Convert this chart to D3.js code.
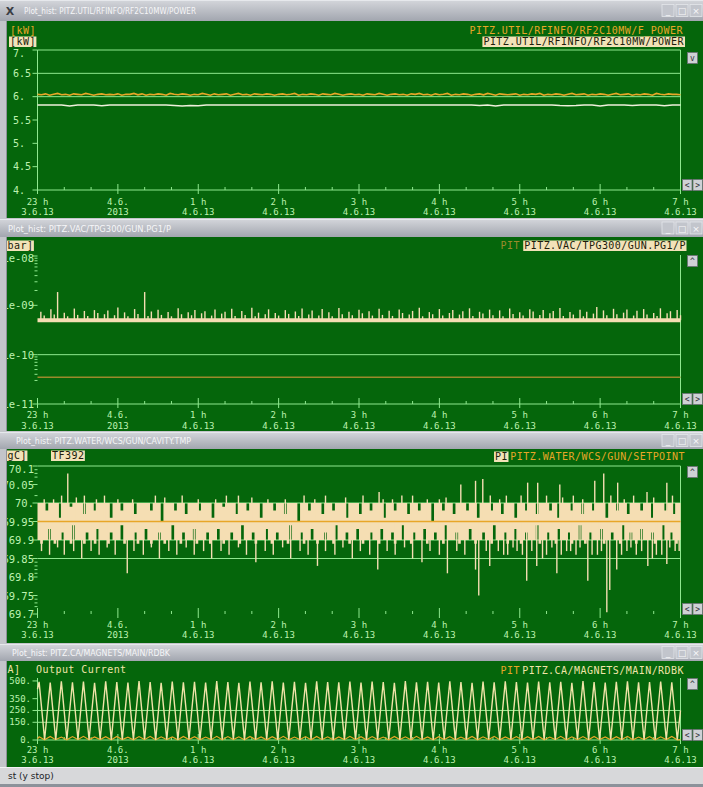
<!DOCTYPE html>
<html><head><meta charset="utf-8">
<script src="https://cdn.jsdelivr.net/npm/d3@7"></script>
<style>
html,body{margin:0;padding:0;background:#c3c5ca;}
svg{display:block;}
</style></head><body>
<svg id="c" width="703" height="787"></svg>
<script>
// ---------- shared time axis: minutes after 23:00 on 3.6.2013 ----------
const hourTicks = [0, 60, 120, 180, 240, 300, 360, 420, 480];
const hourLabelTop = ["23 h", "4.6.", "1 h", "2 h", "3 h", "4 h", "5 h", "6 h", "7 h"];
const hourLabelBottom = ["3.6.13", "2013", "4.6.13", "4.6.13", "4.6.13", "4.6.13", "4.6.13", "4.6.13", "4.6.13"];
const minorTicks = [20, 40, 80, 100, 140, 160, 200, 220, 260, 280, 320, 340, 380, 400, 440, 460];

// ---------- RF power [kW] ----------
const rfTicks = [7, 6.5, 6, 5.5, 5, 4.5, 4];
const rfTickLabels = ["7.", "6.5", "6.", "5.5", "5.", "4.5", "4."];
const rfLimits = [7, 6.5, 6];
const rfForwardStep = 3; // minutes between samples
const rfForward = [
  6.05,6.04,6.06,6.03,6.05,6.07,6.04,6.05,6.03,6.06,6.05,6.04,6.07,6.05,6.03,6.05,6.06,6.04,6.05,6.04,
  6.06,6.03,6.05,6.05,6.07,6.04,6.06,6.03,6.05,6.04,6.06,6.05,6.03,6.07,6.05,6.04,6.06,6.05,6.03,6.05,
  6.04,6.07,6.05,6.03,6.06,6.04,6.05,6.06,6.03,6.05,6.07,6.04,6.05,6.03,6.06,6.05,6.04,6.06,6.05,6.03,
  6.05,6.06,6.04,6.05,6.07,6.03,6.05,6.04,6.06,6.05,6.03,6.06,6.05,6.04,6.07,6.05,6.03,6.05,6.06,6.04,
  6.05,6.03,6.06,6.05,6.04,6.07,6.05,6.03,6.05,6.06,6.04,6.05,6.03,6.06,6.05,6.07,6.04,6.05,6.03,6.06,
  6.04,6.05,6.07,6.03,6.05,6.04,6.06,6.05,6.03,6.05,6.06,6.04,6.07,6.05,6.03,6.06,6.05,6.04,6.05,6.06,
  6.03,6.05,6.04,6.06,6.05,6.07,6.03,6.05,6.04,6.06,6.05,6.03,6.05,6.07,6.04,6.05,6.06,6.03,6.05,6.04,
  6.06,6.05,6.03,6.05,6.07,6.04,6.05,6.06,6.03,6.05,6.04,6.06,6.05,6.03,6.07,6.05,6.04,6.06,6.05,6.05,
  6.04];
const rfPowerStep = 6;
const rfPower = [
  5.82,5.82,5.82,5.82,5.80,5.82,5.82,5.82,5.805,5.82,5.82,5.82,5.82,5.82,5.82,5.82,5.82,5.81,5.80,5.81,
  5.805,5.82,5.82,5.82,5.82,5.82,5.82,5.82,5.82,5.82,5.82,5.82,5.82,5.82,5.82,5.82,5.82,5.82,5.82,5.82,
  5.82,5.82,5.82,5.82,5.82,5.82,5.82,5.82,5.82,5.82,5.82,5.82,5.82,5.82,5.82,5.81,5.82,5.80,5.82,5.82,
  5.82,5.82,5.82,5.82,5.82,5.81,5.805,5.81,5.82,5.82,5.80,5.82,5.82,5.82,5.81,5.82,5.82,5.82,5.805,5.82,5.82];

// ---------- gun vacuum [mbar], values in units of 1e-10 ----------
const vacTicks = [1e-8, 1e-9, 1e-10, 1e-11];
const vacTickLabels = ["1e-08", "1e-09", "1e-10", "1e-11"];
const vacMinor = [9e-9, 8e-9, 7e-9, 6e-9, 5e-9, 4e-9, 3e-9, 2e-9, 9e-11, 8e-11, 7e-11, 6e-11, 5e-11, 4e-11, 3e-11];
const vacLimits = [1e-10];
const vacFloorT = [0, 480];
const vacFloor = [5.0, 5.0];
const vacStep = 2.5; // minutes between peak readings
const vacP = [
  5.0,7.4,6.2,5.1,8.3,6.5,18.6,5.0,7.1,6.0,4.9,8.6,6.4,5.0,7.7,6.1,5.1,8.0,7.0,4.9,
  6.6,7.9,5.0,6.3,9.0,5.1,7.2,6.0,4.8,8.4,6.7,5.0,18.6,6.1,7.5,5.1,8.1,6.4,4.9,7.3,
  6.0,5.0,8.7,6.6,5.1,7.2,6.3,8.0,5.0,6.9,7.6,4.9,6.2,8.2,5.1,6.8,7.4,5.0,8.5,6.1,
  5.0,7.7,6.4,5.2,8.9,6.0,7.1,5.0,6.6,8.3,4.9,7.0,6.2,5.1,8.0,6.7,5.0,7.5,6.1,8.6,
  5.0,6.5,7.9,5.1,6.2,8.4,5.0,7.2,6.0,4.9,8.8,6.6,5.1,7.4,6.3,5.0,8.1,6.9,4.8,7.6,
  6.2,5.0,8.5,6.4,5.1,7.8,6.1,5.0,8.2,7.0,4.9,6.5,7.7,5.1,8.9,6.0,5.0,7.3,6.6,5.0,
  8.4,6.2,5.1,7.0,8.0,4.9,6.5,7.6,5.0,8.7,6.1,5.1,7.4,6.8,5.0,8.2,6.3,4.9,7.9,6.0,
  5.0,8.6,6.7,5.1,7.2,6.2,5.0,8.3,7.5,4.9,6.4,8.0,5.1,6.9,7.7,5.0,8.8,6.1,5.1,7.3,
  6.5,5.0,8.1,6.0,7.4,5.1,6.8,9.2,5.0,7.9,6.3,4.9,8.5,6.6,5.0,7.1,8.2,5.1,6.2,7.8,
  5.0,8.4,6.5,5.1,7.0,6.1,8.7,5.0,6.9,7.6,4.9,8.0,6.3];
const vacRefT = [0, 480];
const vacRef = [0.35, 0.35];

// ---------- cavity temperature [degC] ----------
const tmpTicks = [70.1, 70.05, 70.0, 69.95, 69.9, 69.85, 69.8, 69.75, 69.7];
const tmpTickLabels = ["70.1", "70.05", "70.", "69.95", "69.9", "69.85", "69.8", "69.75", "69.7"];
const tmpMinor = [70.09, 70.08, 70.07, 70.02, 69.84, 69.83, 69.82, 69.81, 69.74, 69.73, 69.72];
const tmpLimits = [70.1, 70.0, 69.9, 69.85];
const tmpStep = 2; // width of one min/max bin in minutes
const tmpHi = [
  70.00,70.00,70.00,69.98,70.00,70.00,70.00,70.00,69.96,70.00,70.00,70.00,69.99,70.00,70.00,70.00,70.00,69.97,70.00,70.00,
  70.00,69.98,70.00,70.00,70.00,70.00,70.00,69.96,70.00,70.00,70.00,69.98,70.00,70.00,70.00,70.00,69.97,70.00,70.00,70.00,
  70.00,70.00,69.98,70.00,70.00,70.00,69.95,70.00,70.00,70.00,70.00,69.98,70.00,70.00,70.00,69.97,70.00,70.00,70.00,70.00,
  69.98,70.00,70.00,70.00,70.00,69.96,70.00,70.00,70.00,69.99,70.00,70.00,70.00,70.00,69.97,70.00,70.00,70.00,69.98,70.00,
  70.00,70.00,70.00,69.96,70.00,70.00,70.00,70.00,69.98,70.00,70.00,70.00,69.97,70.00,70.00,70.00,70.00,69.95,70.00,70.00,
  70.00,69.98,70.00,70.00,70.00,70.00,69.97,70.00,70.00,70.00,69.98,70.00,70.00,70.00,70.00,69.96,70.00,70.00,70.00,70.00,
  69.97,70.00,70.00,70.00,69.98,70.00,70.00,70.00,70.00,69.96,70.00,70.00,70.00,69.98,70.00,70.00,70.00,70.00,69.97,70.00,
  70.00,70.00,69.98,70.00,70.00,70.00,70.00,69.95,70.00,70.00,70.00,69.98,70.00,70.00,70.00,69.97,70.00,70.00,70.00,70.00,
  69.98,70.00,70.00,70.00,69.96,70.00,70.00,70.00,70.00,69.98,70.00,70.00,70.00,69.97,70.00,70.00,70.00,70.00,69.96,70.00,
  70.00,70.00,69.98,70.00,70.00,70.00,69.97,70.00,70.00,70.00,70.00,69.98,70.00,70.00,69.96,70.00,70.00,70.00,70.00,69.98,
  70.00,70.00,70.00,69.97,70.00,70.00,70.00,69.98,70.00,70.00,70.00,70.00,69.96,70.00,70.00,70.00,69.98,70.00,70.00,70.00,
  69.97,70.00,70.00,70.00,70.00,69.98,70.00,70.00,70.00,69.96,70.00,70.00,70.00,70.00,69.98,70.00,70.00,69.97,70.00,70.00,
  70.00];
const tmpLo = [
  69.90,69.89,69.90,69.90,69.93,69.90,69.89,69.90,69.90,69.92,69.90,69.90,69.89,69.94,69.90,69.90,69.90,69.89,69.92,69.90,
  69.90,69.89,69.93,69.90,69.90,69.90,69.89,69.92,69.90,69.90,69.90,69.94,69.89,69.90,69.90,69.90,69.92,69.89,69.90,69.90,
  69.93,69.90,69.89,69.90,69.90,69.92,69.90,69.89,69.90,69.90,69.94,69.90,69.90,69.89,69.92,69.90,69.90,69.90,69.93,69.89,
  69.90,69.90,69.90,69.92,69.89,69.90,69.90,69.93,69.90,69.89,69.90,69.90,69.92,69.90,69.90,69.89,69.94,69.90,69.90,69.90,
  69.92,69.89,69.90,69.90,69.90,69.93,69.90,69.89,69.90,69.92,69.90,69.90,69.90,69.89,69.94,69.90,69.90,69.90,69.92,69.89,
  69.90,69.90,69.93,69.90,69.89,69.90,69.90,69.92,69.90,69.90,69.89,69.94,69.90,69.90,69.90,69.92,69.89,69.90,69.90,69.93,
  69.90,69.89,69.90,69.90,69.92,69.90,69.90,69.89,69.93,69.90,69.90,69.90,69.92,69.89,69.90,69.90,69.94,69.90,69.90,69.89,
  69.92,69.90,69.90,69.90,69.93,69.89,69.90,69.90,69.92,69.90,69.90,69.89,69.94,69.90,69.90,69.90,69.92,69.89,69.90,69.90,
  69.90,69.93,69.90,69.89,69.90,69.90,69.92,69.90,69.90,69.89,69.94,69.90,69.90,69.90,69.92,69.89,69.90,69.90,69.93,69.90,
  69.89,69.90,69.92,69.90,69.90,69.90,69.94,69.89,69.90,69.90,69.92,69.90,69.90,69.89,69.93,69.90,69.90,69.90,69.92,69.89,
  69.90,69.90,69.94,69.90,69.89,69.90,69.92,69.90,69.90,69.90,69.93,69.89,69.90,69.90,69.92,69.90,69.90,69.89,69.94,69.90,
  69.90,69.92,69.90,69.89,69.90,69.93,69.90,69.90,69.90,69.92,69.89,69.90,69.90,69.94,69.90,69.90,69.92,69.90,69.89,69.90,
  69.90];
// single excursions outside the band: time [min] and value
const tmpSpikeT = [
  3,9,15,20,27,33,40,46,52,58,67,72,79,85,91,98,104,111,117,124,130,137,143,150,156,163,170,176,183,189,
  196,202,209,215,222,228,235,241,248,254,261,267,274,280,287,293,300,306,313,319,
  327,329.4,337.6,344,351,358,365.2,372.7,380,387.7,395,402,410.8,418,425,427.2,432.4,440,447,455.6,462,469.8,476,
  335,348,355,362,369,377,384,391,398,405,414,421,436,443,451,459,466,472,479,
  22.6,12,35,60,88,120,150,185,215,255,258,280,300,316,327,332.4,350,365.9,373.4,380,389.9,400,416,422.7,433.1,445,455,469.8,
  5,18,29,44,50,71,95,108,133,141,160,172,199,207,230,243,265,272,291,305,338,345,361,392,407,428,438,460,474];
const tmpSpikeV = [
  69.87,69.86,69.88,69.86,69.87,69.85,69.87,69.86,69.88,69.86,69.81,69.87,69.86,69.88,69.85,69.87,69.86,69.88,69.86,69.87,
  69.85,69.87,69.86,69.88,69.86,69.84,69.87,69.86,69.88,69.85,69.87,69.86,69.83,69.87,69.86,69.88,69.85,69.87,69.86,69.82,
  69.87,69.86,69.88,69.85,69.84,69.87,69.86,69.81,69.87,69.86,
  69.82,69.75,69.83,69.87,69.86,69.87,69.79,69.83,69.86,69.81,69.87,69.86,69.79,69.86,69.705,69.765,69.82,69.87,69.86,69.83,69.86,69.835,69.87,
  69.87,69.86,69.88,69.86,69.87,69.85,69.88,69.86,69.87,69.88,69.86,69.87,69.86,69.88,69.87,69.85,69.86,69.88,69.87,
  70.08,70.01,70.02,70.01,70.02,70.01,70.02,70.01,70.02,70.03,70.01,70.02,70.01,70.05,70.06,70.065,70.02,70.055,70.055,70.02,70.05,70.02,70.06,70.08,70.055,70.02,70.03,70.055,
  70.01,70.02,70.015,70.01,70.02,70.01,70.015,70.02,70.01,70.02,70.015,70.01,70.02,70.01,70.015,70.02,70.01,70.02,70.01,70.015,70.02,70.01,70.02,70.015,70.01,70.02,70.01,70.015,70.02];
const tmpSetT = [0, 480];
const tmpSet = [69.95, 69.95];

// ---------- magnet output current [A] ----------
const magTicks = [500, 350, 250, 150, 0];
const magTickLabels = ["500.", "350.", "250.", "150.", "0."];
const magLimits = [250, 150];
const magT = [0,
  1.2,5.3, 9.5,13.6, 17.8,21.9, 26.1,30.2, 34.3,38.5, 42.6,46.8, 50.9,55.1, 59.2,63.3, 67.5,71.6, 75.8,79.9,
  84.1,88.2, 92.3,96.5, 100.6,104.8, 108.9,113.1, 117.2,121.3, 125.5,129.6, 133.8,137.9, 142.1,146.2, 150.3,154.5, 158.6,162.8,
  166.9,171.1, 175.2,179.3, 183.5,187.6, 191.8,195.9, 200.1,204.2, 208.4,212.5, 216.6,220.8, 224.9,229.1, 233.2,237.4, 241.5,245.6,
  249.8,253.9, 258.1,262.2, 266.4,270.5, 274.6,278.8, 282.9,287.1, 291.2,295.4, 299.5,303.6, 307.8,311.9, 316.1,320.2, 324.4,328.5,
  332.6,336.8, 340.9,345.1, 349.2,353.4, 357.5,361.6, 365.8,369.9, 374.1,378.2, 382.4,386.5, 390.6,394.8, 398.9,403.1, 407.2,411.4,
  415.5,419.6, 423.8,427.9, 432.1,436.2, 440.4,444.5, 448.7,452.8, 456.9,461.1, 465.2,469.4, 473.5,477.6,
  480];
const magRdbk = [430,
  492,5, 486,3, 497,6, 489,4, 494,2, 485,7, 496,3, 490,5, 487,4, 499,6,
  491,3, 484,5, 495,2, 488,6, 493,4, 486,3, 498,5, 490,7, 485,3, 494,4,
  489,6, 496,2, 487,5, 492,3, 485,6, 497,4, 490,3, 488,5, 494,7, 486,2,
  495,4, 491,6, 484,3, 498,5, 489,4, 493,2, 487,6, 496,3, 490,5, 485,4,
  494,7, 488,3, 497,5, 491,2, 486,6, 495,4, 489,3, 492,5, 484,6, 498,3,
  490,4, 487,5, 493,3, 496,6, 488,2, 491,5, 495,4, 489,3,
  250];
const magAux = [10,
  27,2, 30,3, 25,2, 29,4, 31,2, 26,3, 28,2, 30,4, 24,2, 29,3,
  31,2, 27,3, 26,2, 30,4, 28,2, 25,3, 31,2, 29,3, 27,2, 30,4,
  26,2, 28,3, 31,2, 25,4, 29,2, 30,3, 27,2, 26,3, 31,4, 28,2,
  29,3, 25,2, 30,4, 27,2, 31,3, 26,2, 28,4, 29,2, 25,3, 30,2,
  27,4, 31,2, 26,3, 29,2, 28,4, 30,2, 25,3, 31,2, 27,4, 29,2,
  30,3, 26,2, 28,4, 31,2, 25,3, 29,2, 27,4, 30,2,
  4];

// ---------- drawing ----------
const MONO = "'DejaVu Sans Mono','Liberation Mono',monospace";
const C = {
  bg: "#05660b", line: "#8fe88f", text: "#bdf2b0", beige: "#f5deb3", tagBg: "#f2e2b8",
  orange: "#e8a628", olive: "#9c8a2c", pale: "#f0f0dc", mag: "#f0e4a8"
};
const X0 = 37.5, X1 = 680.5;
const t0 = new Date(2013, 5, 3, 23, 0, 0);
const at = m => new Date(t0.getTime() + m * 60000);
const x = d3.scaleTime().domain([at(0), at(480)]).range([X0, X1]);

const svg = d3.select("#c");
const defs = svg.append("defs");
const grad = defs.append("linearGradient").attr("id", "tbar")
  .attr("x1", 0).attr("x2", 0).attr("y1", 0).attr("y2", 1);
grad.append("stop").attr("offset", "0%").attr("stop-color", "#d4d6db");
grad.append("stop").attr("offset", "100%").attr("stop-color", "#a2a6af");

svg.append("rect").attr("width", 703).attr("height", 787).attr("fill", "#c3c5ca");

function titleBar(y0, h, title, tx, tlen) {
  svg.append("rect").attr("x", 0).attr("y", y0).attr("width", 703).attr("height", h).attr("fill", "url(#tbar)");
  svg.append("line").attr("x1", 0).attr("x2", 703).attr("y1", y0 + 0.5).attr("y2", y0 + 0.5).attr("stroke", "#e6e8ec");
  svg.append("text").attr("x", tx).attr("y", y0 + h / 2 + 0.5).attr("dominant-baseline", "central")
    .attr("font-family", "'DejaVu Sans Condensed','DejaVu Sans',sans-serif").attr("font-size", 9)
    .attr("fill", "#f6f6f8").attr("textLength", tlen).attr("lengthAdjust", "spacingAndGlyphs").text(title);
  ["_", "\u25A1", "\u00D7"].forEach((s, i) => {
    const bx = 662 + i * 14;
    svg.append("rect").attr("x", bx).attr("y", y0 + h / 2 - 6).attr("width", 12).attr("height", 12)
      .attr("fill", "#c2c5cc").attr("stroke", "#e4e6ea").attr("stroke-width", 0.8);
    svg.append("text").attr("x", bx + 6).attr("y", y0 + h / 2 + 0.5).attr("text-anchor", "middle")
      .attr("dominant-baseline", "central").attr("font-family", "'DejaVu Sans',sans-serif")
      .attr("font-size", 9).attr("fill", "#f8f8fa").text(s);
  });
}

function plotArea(id, y0, y1) {
  svg.append("rect").attr("x", 7).attr("y", y0).attr("width", 696).attr("height", y1 - y0).attr("fill", C.bg);
  svg.append("line").attr("x1", 6.5).attr("x2", 6.5).attr("y1", y0).attr("y2", y1).attr("stroke", "#8e9298");
  defs.append("clipPath").attr("id", id).append("rect")
    .attr("x", 7).attr("y", y0).attr("width", 696).attr("height", y1 - y0);
  return svg.append("g").attr("clip-path", `url(#${id})`);
}

function txt(g, xp, yp, s, anchor, color, size, spacing) {
  const t = g.append("text").attr("x", xp).attr("y", yp).attr("text-anchor", anchor || "start")
    .attr("dominant-baseline", "central").attr("font-family", MONO).attr("font-size", size || 10)
    .attr("fill", color || C.text).text(s);
  if (spacing) t.attr("letter-spacing", spacing);
  return t;
}

// legend texts: slightly spaced monospace
function legend(g, xp, yp, s, anchor, color) {
  return txt(g, xp, yp, s, anchor, color, 10, 0.45);
}

function tag(g, xp, yp, s, anchor, bg) {
  const t = legend(g, xp, yp, s, anchor, "#201c0a");
  const b = t.node().getBBox();
  g.insert("rect", () => t.node()).attr("x", b.x - 1).attr("y", yp - 5)
    .attr("width", b.width + 1.5).attr("height", 10.5).attr("fill", bg || C.tagBg);
  return t;
}

function hline(g, yv, color, w) {
  g.append("line").attr("x1", X0).attr("x2", X1).attr("y1", yv).attr("y2", yv)
    .attr("stroke", color || C.line).attr("stroke-width", w || 1);
}

function timeAxis(g, yA, withLine, dy1, dy2) {
  if (withLine) hline(g, yA);
  g.selectAll(null).data(minorTicks).join("line")
    .attr("x1", m => x(at(m))).attr("x2", m => x(at(m)))
    .attr("y1", yA - 3).attr("y2", yA).attr("stroke", C.line);
  g.selectAll(null).data(hourTicks).join("line")
    .attr("x1", m => x(at(m))).attr("x2", m => x(at(m)))
    .attr("y1", yA - 6).attr("y2", yA + 4).attr("stroke", C.line);
  hourTicks.forEach((m, i) => {
    txt(g, x(at(m)), yA + dy1, hourLabelTop[i], "middle", C.text, 9);
    txt(g, x(at(m)), yA + dy2, hourLabelBottom[i], "middle", C.text, 9);
  });
}

// value axis: the label of the topmost tick sits a little lower so it stays inside the frame
function valueAxis(g, y, ticks, labels, labelX, anchor, minor, size, topDrop) {
  const yTop = d3.min(ticks, v => y(v));
  ticks.forEach((v, i) => {
    g.append("line").attr("x1", X0 - 5).attr("x2", X0).attr("y1", y(v)).attr("y2", y(v)).attr("stroke", C.line);
    const yl = y(v) === yTop ? y(v) + (topDrop || 0) : y(v);
    txt(g, labelX, yl, labels[i], anchor, C.text, size || 10);
  });
  (minor || []).forEach(v => {
    g.append("line").attr("x1", X0 - 3).attr("x2", X0).attr("y1", y(v)).attr("y2", y(v)).attr("stroke", C.line);
  });
}

function sideButtons(g, yTop, glyph, yArrows) {
  g.append("rect").attr("x", 687.5).attr("y", yTop + 0.5).attr("width", 10).attr("height", 11)
    .attr("fill", "#cfd1d5").attr("stroke", "#6c7076").attr("stroke-width", 0.8);
  g.append("text").attr("x", 692.5).attr("y", yTop + 6.5).attr("text-anchor", "middle").attr("dominant-baseline", "central")
    .attr("font-family", MONO).attr("font-size", 8).attr("fill", "#303238").text(glyph);
  ["<", ">"].forEach((s, i) => {
    const bx = 682.5 + i * 10.5;
    g.append("rect").attr("x", bx).attr("y", yArrows + 0.5).attr("width", 9.5).attr("height", 11)
      .attr("fill", "#cfd1d5").attr("stroke", "#6c7076").attr("stroke-width", 0.8);
    g.append("text").attr("x", bx + 4.75).attr("y", yArrows + 6).attr("text-anchor", "middle").attr("dominant-baseline", "central")
      .attr("font-family", MONO).attr("font-size", 8).attr("fill", "#303238").text(s);
  });
}

function vborder(g, y0, y1) {
  g.append("line").attr("x1", X1).attr("x2", X1).attr("y1", y0).attr("y2", y1).attr("stroke", C.line);
}

// ===== panel 1: RF power =====
titleBar(0, 21, "Plot_hist: PITZ.UTIL/RFINFO/RF2C10MW/POWER", 24, 172);
svg.append("text").attr("x", 10).attr("y", 11).attr("text-anchor", "middle").attr("dominant-baseline", "central")
  .attr("font-family", "'DejaVu Sans',sans-serif").attr("font-weight", "bold").attr("font-size", 11)
  .attr("fill", "#3a3d44").text("X");
{
  const g = plotArea("clip1", 21, 218);
  const y = d3.scaleLinear().domain([4, 7]).range([190, 50]);
  rfLimits.forEach(v => hline(g, y(v)));
  g.append("line").attr("x1", X0).attr("x2", X0).attr("y1", y(7)).attr("y2", y(4)).attr("stroke", C.line);
  vborder(g, y(7), y(4));
  valueAxis(g, y, rfTicks, rfTickLabels, 13, "start", null, 10, 3);
  timeAxis(g, y(4), true, 11.5, 21.5);
  const line = d3.line().x(d => x(at(d.t))).y(d => y(d.v));
  g.append("path").attr("d", line(rfPower.map((v, i) => ({ t: i * rfPowerStep, v }))))
    .attr("fill", "none").attr("stroke", C.pale).attr("stroke-width", 1.5);
  g.append("path").attr("d", line(rfForward.map((v, i) => ({ t: i * rfForwardStep, v }))))
    .attr("fill", "none").attr("stroke", C.orange).attr("stroke-width", 1.6);
  legend(g, 10, 30, "[kW]", "start", C.orange);
  tag(g, 10, 41.5, "[kW]", "start");
  legend(g, 683, 30, "PITZ.UTIL/RFINFO/RF2C10MW/F_POWER", "end", C.orange);
  tag(g, 684, 41.5, "PITZ.UTIL/RFINFO/RF2C10MW/POWER", "end");
  sideButtons(g, 52, "v", 179);
}

// ===== panel 2: gun vacuum =====
titleBar(219, 18, "Plot_hist: PITZ.VAC/TPG300/GUN.PG1/P", 8, 163);
{
  const g = plotArea("clip2", 237, 431);
  const y = d3.scaleLog().domain([1e-11, 1e-8]).range([404, 256]);
  vacLimits.forEach(v => hline(g, y(v)));
  vborder(g, 255, 404);
  valueAxis(g, y, vacTicks, vacTickLabels, 34, "end", vacMinor, 10.5, 1.5);
  timeAxis(g, 404, true, 11, 21.5);
  const line = d3.line().x(d => x(at(d.t))).y(d => y(d.v * 1e-10));
  g.append("path").attr("d", line(vacRefT.map((t, i) => ({ t, v: vacRef[i] }))))
    .attr("fill", "none").attr("stroke", C.olive).attr("stroke-width", 1.5);
  // pressure floor, with each peak reading drawn as a stem above it
  g.append("path").attr("d", line(vacFloorT.map((t, i) => ({ t, v: vacFloor[i] }))))
    .attr("fill", "none").attr("stroke", C.beige).attr("stroke-width", 4);
  g.selectAll(null).data(vacP.map((v, i) => ({ t: i * vacStep, v }))).join("line")
    .attr("x1", d => x(at(d.t))).attr("x2", d => x(at(d.t)))
    .attr("y1", y(vacFloor[0] * 1e-10)).attr("y2", d => y(d.v * 1e-10))
    .attr("stroke", C.beige).attr("stroke-width", 1.4);
  tag(g, 7.5, 245.5, "bar]", "start");
  legend(g, 520, 245.5, "PIT", "end", C.olive);
  tag(g, 686, 245.5, "PITZ.VAC/TPG300/GUN.PG1/P", "end");
  sideButtons(g, 255, "^", 393);
}

// ===== panel 3: cavity temperature =====
titleBar(432, 17, "Plot_hist: PITZ.WATER/WCS/GUN/CAVITY.TMP", 16, 175);
{
  const g = plotArea("clip3", 449, 643);
  const y = d3.scaleLinear().domain([69.7, 70.1]).range([614, 466]);
  tmpLimits.forEach(v => hline(g, y(v)));
  vborder(g, 466, 614);
  valueAxis(g, y, tmpTicks, tmpTickLabels, 34, "end", tmpMinor, 10.5, 2.5);
  timeAxis(g, 614, false, 11, 21);
  const bins = tmpHi.map((hi, i) => ({ t: i * tmpStep, hi, lo: tmpLo[i] }));
  g.append("path").attr("d", d3.area().curve(d3.curveStepAfter)
      .x(d => x(at(d.t))).y0(d => y(d.lo)).y1(d => y(d.hi))(bins))
    .attr("fill", C.beige);
  g.selectAll(null).data(tmpSpikeT.map((t, i) => ({ t, v: tmpSpikeV[i] }))).join("line")
    .attr("x1", d => x(at(d.t))).attr("x2", d => x(at(d.t)))
    .attr("y1", y(69.95)).attr("y2", d => y(d.v))
    .attr("stroke", C.beige).attr("stroke-width", 1.4);
  g.append("path").attr("d", d3.line().x(d => x(at(d.t))).y(d => y(d.v))(tmpSetT.map((t, i) => ({ t, v: tmpSet[i] }))))
    .attr("fill", "none").attr("stroke", C.orange).attr("stroke-width", 1.3);
  tag(g, 7.5, 455.5, "gC]", "start");
  tag(g, 52, 455.5, "TF392", "start");
  tag(g, 508, 456.5, "PI", "end");
  legend(g, 685, 456.5, "PITZ.WATER/WCS/GUN/SETPOINT", "end", C.orange);
  sideButtons(g, 466, "^", 603);
}

// ===== panel 4: magnet current =====
titleBar(644, 17, "Plot_hist: PITZ.CA/MAGNETS/MAIN/RDBK", 12, 158);
{
  const g = plotArea("clip4", 661, 767);
  const y = d3.scaleLinear().domain([0, 525]).range([740, 678]);
  magLimits.forEach(v => hline(g, y(v)));
  g.append("line").attr("x1", X0).attr("x2", X0).attr("y1", 678).attr("y2", 740).attr("stroke", C.line);
  vborder(g, 678, 740);
  valueAxis(g, y, magTicks, magTickLabels, 31, "end", null, 9, 0);
  timeAxis(g, 740, true, 10, 19.5);
  const line = d3.line().x(d => x(at(d.t))).y(d => y(d.v));
  g.append("path").attr("d", line(magT.map((t, i) => ({ t, v: magAux[i] }))))
    .attr("fill", "none").attr("stroke", C.orange).attr("stroke-width", 1.2);
  g.append("path").attr("d", line(magT.map((t, i) => ({ t, v: magRdbk[i] }))))
    .attr("fill", "none").attr("stroke", C.mag).attr("stroke-width", 1.4);
  legend(g, 7.5, 669.5, "A]", "start", C.mag);
  legend(g, 36, 669.5, "Output Current", "start", C.mag);
  legend(g, 520, 670.5, "PIT", "end", C.orange);
  legend(g, 684, 670.5, "PITZ.CA/MAGNETS/MAIN/RDBK", "end", C.mag);
  sideButtons(g, 678, "^", 729);
}

// ===== status bar =====
svg.append("rect").attr("x", 0).attr("y", 767).attr("width", 703).attr("height", 17).attr("fill", "#d7d8da");
svg.append("line").attr("x1", 0).attr("x2", 703).attr("y1", 767.5).attr("y2", 767.5).attr("stroke", "#f2f2f4");
svg.append("text").attr("x", 8).attr("y", 776).attr("dominant-baseline", "central")
  .attr("font-family", "'DejaVu Sans',sans-serif").attr("font-size", 9).attr("fill", "#202226").text("st (y stop)");
svg.append("rect").attr("x", 0).attr("y", 784).attr("width", 703).attr("height", 3).attr("fill", "#8c929a");
</script>
</body></html>
